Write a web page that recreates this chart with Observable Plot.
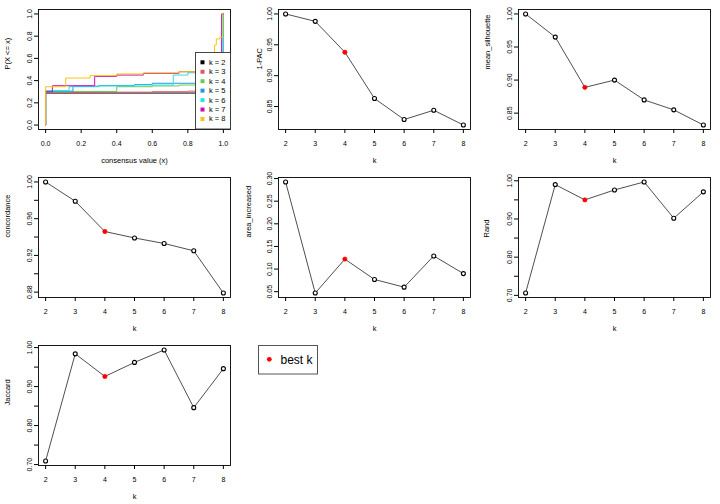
<!DOCTYPE html>
<html><head><meta charset="utf-8">
<script src="https://cdn.jsdelivr.net/npm/d3@7"></script>
<script src="https://cdn.jsdelivr.net/npm/@observablehq/plot@0.6"></script>
<style>
html,body{margin:0;padding:0;background:#fff;}
#grid{position:relative;width:720px;height:504px;overflow:hidden;background:#fff;}
.panel{position:absolute;width:240px;height:168px;}
.panel svg{position:absolute;left:0;top:0;}
</style></head><body><div id="grid"></div>
<script>
// ---------- data ----------
const ks = [2, 3, 4, 5, 6, 7, 8];
const bestK = 4;
const pac = [1.000, 0.988, 0.938, 0.863, 0.829, 0.844, 0.820];
const silhouette = [1.000, 0.965, 0.889, 0.900, 0.870, 0.855, 0.832];
const concordance = [1.000, 0.979, 0.946, 0.939, 0.933, 0.925, 0.879];
const areaIncreased = [0.2925, 0.047, 0.122, 0.077, 0.060, 0.129, 0.090];
const rand = [0.706, 0.990, 0.950, 0.976, 0.997, 0.902, 0.971];
const jaccard = [0.709, 0.984, 0.926, 0.962, 0.994, 0.846, 0.946];

// consensus ECDF breakpoints [consensus value, P(X <= x)]
const ecdfK2 = [[0, 0], [0, 0.288], [1, 1]];
const ecdfK3 = [[0, 0], [0, 0.293], [0.3, 0.296], [0.6, 0.300], [0.8, 0.305], [0.9, 0.310], [0.97, 0.318], [1, 1]];
const ecdfK4 = [[0, 0], [0, 0.300], [0.15, 0.302], [0.40, 0.345], [0.6, 0.352], [0.75, 0.360], [0.9, 0.372], [1, 1]];
const ecdfK5 = [[0, 0], [0, 0.305], [0.154, 0.350], [0.3, 0.355], [0.5, 0.365], [0.6, 0.376], [1, 1]];
const ecdfK6 = [[0, 0], [0, 0.310], [0.132, 0.345], [0.3, 0.352], [0.5, 0.360], [0.718, 0.450], [0.8, 0.470], [0.85, 0.480], [0.95, 0.500], [1, 1]];
const ecdfK7 = [[0, 0], [0, 0.300], [0.038, 0.354], [0.276, 0.438], [0.4, 0.450], [0.55, 0.465], [0.75, 0.480], [0.85, 0.490], [0.99, 1], [1, 1]];
const ecdfK8 = [[0, 0], [0, 0.345], [0.113, 0.423], [0.25, 0.445], [0.4, 0.460], [0.55, 0.470], [0.75, 0.480], [0.85, 0.500], [0.9, 0.520], [0.94, 0.650], [0.95, 0.720], [0.96, 0.775], [0.98, 0.790], [0.995, 1], [1, 1]];
const ecdfSeries = [ecdfK2, ecdfK3, ecdfK4, ecdfK5, ecdfK6, ecdfK7, ecdfK8];
const ecdfLabels = ["k = 2", "k = 3", "k = 4", "k = 5", "k = 6", "k = 7", "k = 8"];
const ecdfColors = ["#000000", "#DF536B", "#61D04F", "#2297E6", "#28E2E5", "#CD0BBC", "#F5C710"];

// tick arrays
const ticksUnit = [0, 0.2, 0.4, 0.6, 0.8, 1.0];
const ticksPAC = [0.85, 0.90, 0.95, 1.00];
const ticksSil = [0.85, 0.90, 0.95, 1.00];
const ticksConc = [0.88, 0.90, 0.92, 0.94, 0.96, 0.98, 1.00];
const labelsConc = [0.88, 0.92, 0.96, 1.00];
const ticksArea = [0.05, 0.10, 0.15, 0.20, 0.25, 0.30];
const ticksRJ = [0.70, 0.75, 0.80, 0.85, 0.90, 0.95, 1.00];
const labelsRJ = [0.70, 0.80, 0.90, 1.00];

// ---------- drawing ----------
const FONT = "'Liberation Sans', Arial, Helvetica, sans-serif";
const grid = document.getElementById("grid");
const pad4 = (ext) => { const r = ext[1] - ext[0]; return [ext[0] - 0.04 * r, ext[1] + 0.04 * r]; };
const f2 = d3.format(".2f"), f1 = d3.format(".1f");

function addPanel(col, row, node) {
  const div = document.createElement("div");
  div.className = "panel";
  div.style.left = (col * 240) + "px";
  div.style.top = (row * 168) + "px";
  if (node) div.appendChild(node);
  grid.appendChild(div);
  return div;
}

function base(opts) {
  return Plot.plot({
    width: 240, height: 168,
    marginLeft: 38, marginRight: 10, marginTop: 9, marginBottom: 39,
    style: {fontFamily: FONT, fontSize: "7.5px", background: "transparent", color: "black", overflow: "visible"},
    ...opts
  });
}

function metricPanel(col, row, values, label, yTicks, yLabels, labelDx) {
  const data = ks.map((k, i) => ({k, v: values[i]}));
  const isLab = (d) => yLabels.some((v) => Math.abs(v - d) < 1e-9);
  const p = base({
    x: {domain: pad4(d3.extent(ks))},
    y: {domain: pad4(d3.extent(values))},
    marks: [
      Plot.frame({stroke: "black", strokeWidth: 0.9}),
      Plot.axisX(ks, {anchor: "bottom", tickSize: 4, tickPadding: 8, tickFormat: (d) => String(d), label: null, fontSize: 7}),
      Plot.axisY(yTicks, {anchor: "left", tickSize: 4, tickRotate: -90, tickPadding: 3, tickFormat: (d) => isLab(d) ? f2(d) : "", label: null, fontSize: 7}),
      Plot.line(data, {x: "k", y: "v", stroke: "#222", strokeWidth: 0.8}),
      Plot.dot(data.filter((d) => d.k !== bestK), {x: "k", y: "v", r: 2, stroke: "black", strokeWidth: 1.1, fill: "white"}),
      Plot.dot(data.filter((d) => d.k === bestK), {x: "k", y: "v", r: 2.2, fill: "#ff0000", stroke: "#ff0000", strokeWidth: 0.5}),
      Plot.text([label], {frameAnchor: "left", dx: labelDx, rotate: -90, fontSize: 7.5}),
      Plot.text(["k"], {frameAnchor: "bottom", dy: 33, fontSize: 7.5})
    ]
  });
  addPanel(col, row, p);
}

// Panel 1: ECDF
{
  const marks = [
    Plot.frame({stroke: "black", strokeWidth: 0.9}),
    Plot.axisX(ticksUnit, {anchor: "bottom", tickSize: 4, tickPadding: 8, tickFormat: f1, label: null, fontSize: 7}),
    Plot.axisY(ticksUnit, {anchor: "left", tickSize: 4, tickRotate: -90, tickPadding: 3, tickFormat: f1, label: null, fontSize: 7})
  ];
  ecdfSeries.forEach((s, i) => {
    marks.push(Plot.line(s, {x: (d) => d[0], y: (d) => d[1], stroke: ecdfColors[i], strokeWidth: 1, curve: "step-after"}));
  });
  marks.push(Plot.text(["P(X <= x)"], {frameAnchor: "left", dx: -31, rotate: -90, fontSize: 7.5}));
  marks.push(Plot.text(["consensus value (x)"], {frameAnchor: "bottom", dy: 33, fontSize: 7.5}));
  const p = base({x: {domain: pad4([0, 1])}, y: {domain: pad4([0, 1])}, marks});
  const div = addPanel(0, 0, p);
  // legend
  const svg = d3.select(div).append("svg").attr("width", 240).attr("height", 168)
    .style("font-family", FONT).style("overflow", "visible");
  svg.append("rect").attr("x", 195.5).attr("y", 52.5).attr("width", 35).attr("height", 76.5)
    .attr("fill", "white").attr("stroke", "#333").attr("stroke-width", 0.9);
  ecdfLabels.forEach((lab, i) => {
    const cy = 62.3 + i * 9.45;
    svg.append("rect").attr("x", 200.5).attr("y", cy - 2).attr("width", 4).attr("height", 4).attr("fill", ecdfColors[i]);
    svg.append("text").attr("x", 209).attr("y", cy).attr("dy", "0.33em").attr("font-size", 7.5).attr("fill", "black").text(lab);
  });
}

metricPanel(1, 0, pac, "1-PAC", ticksPAC, ticksPAC, -19);
metricPanel(2, 0, silhouette, "mean_silhouette", ticksSil, ticksSil, -31);
metricPanel(0, 1, concordance, "concordance", ticksConc, labelsConc, -31);
metricPanel(1, 1, areaIncreased, "area_increased", ticksArea, ticksArea, -30);
metricPanel(2, 1, rand, "Rand", ticksRJ, labelsRJ, -32);
metricPanel(0, 2, jaccard, "Jaccard", ticksRJ, labelsRJ, -31);

// Panel 8: best k legend
{
  const div = addPanel(1, 2, null);
  const svg = d3.select(div).append("svg").attr("width", 240).attr("height", 168).style("font-family", FONT);
  svg.append("rect").attr("x", 18.5).attr("y", 9.5).attr("width", 59).attr("height", 28.5)
    .attr("fill", "white").attr("stroke", "#555").attr("stroke-width", 1);
  svg.append("circle").attr("cx", 29.3).attr("cy", 23.3).attr("r", 2.4).attr("fill", "#ff0000");
  svg.append("text").attr("x", 40.5).attr("y", 27.8).attr("font-size", 12).attr("fill", "black").text("best k");
}
</script></body></html>
